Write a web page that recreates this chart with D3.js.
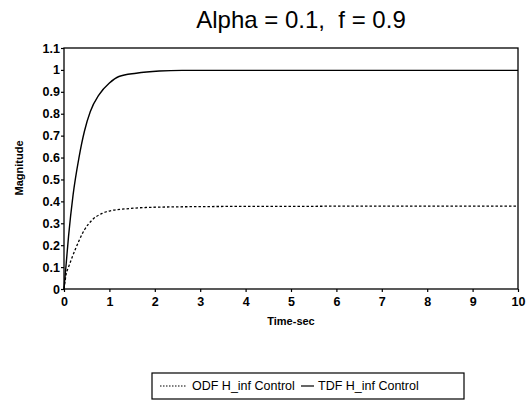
<!DOCTYPE html>
<html>
<head>
<meta charset="utf-8">
<script src="https://cdn.jsdelivr.net/npm/d3@7"></script>
<style>
body { margin: 0; background: #fff; }
text { font-family: "Liberation Sans", Arial, sans-serif; fill: #000; }
</style>
</head>
<body>
<svg id="chart" width="528" height="407"></svg>
<script>
// step responses
var tdfTime = [0, 0.05, 0.1, 0.2, 0.33, 0.45, 0.58, 0.77, 1.0, 1.21, 1.59, 2.1, 2.6, 3, 4, 5, 6, 7, 8, 9, 10]
var tdfMag  = [0, 0.12, 0.24, 0.43, 0.60, 0.72, 0.81, 0.886, 0.94, 0.97, 0.985, 0.995, 0.998, 0.998, 0.998, 0.998, 0.998, 0.998, 0.998, 0.998, 0.998]
var odfTime = [0, 0.05, 0.1, 0.18, 0.33, 0.45, 0.62, 0.84, 1.0, 1.37, 1.8, 2.5, 3, 4, 5, 6, 7, 8, 9, 10]
var odfMag  = [0, 0.07, 0.10, 0.145, 0.22, 0.27, 0.315, 0.345, 0.356, 0.366, 0.372, 0.375, 0.376, 0.377, 0.377, 0.378, 0.378, 0.378, 0.378, 0.378]
var xTicks = d3.range(0, 11)
var yTicks = [0, 0.1, 0.2, 0.3, 0.4, 0.5, 0.6, 0.7, 0.8, 0.9, 1, 1.1]
var legendNames = ['ODF H_inf Control', 'TDF H_inf Control']

var svg = d3.select('#chart')
var x = d3.scaleLinear().domain([0, 10]).range([64, 518])
var y = d3.scaleLinear().domain([0, 1.1]).range([289, 48])

svg.append('text')
  .attr('x', 301).attr('y', 28)
  .attr('text-anchor', 'middle')
  .style('font-size', '24px')
  .style('white-space', 'pre')
  .text('Alpha = 0.1,  f = 0.9')

svg.append('rect')
  .attr('x', 64).attr('y', 48)
  .attr('width', 454).attr('height', 241)
  .attr('fill', 'none').attr('stroke', '#000').attr('stroke-width', 1.3)

var xAxis = svg.append('g')
  .attr('transform', 'translate(0,289)')
  .call(d3.axisBottom(x).tickValues(xTicks).tickSize(3).tickFormat(d3.format('d')))
var yAxis = svg.append('g')
  .attr('transform', 'translate(64,0)')
  .call(d3.axisLeft(y).tickValues(yTicks).tickSize(3).tickFormat(function (d) { return d3.format('')(+d.toFixed(1)) }))

svg.selectAll('.domain').remove()
svg.selectAll('.tick line').attr('stroke', '#000').attr('stroke-width', 1.2)
svg.selectAll('.tick text')
  .style('font-family', '"Liberation Sans", Arial, sans-serif')
  .style('font-size', '12.5px')
  .style('font-weight', 'bold')
  .attr('fill', '#000')
xAxis.selectAll('.tick text').attr('dy', '0.9em')
yAxis.selectAll('.tick text').attr('x', -4)

svg.append('text')
  .attr('x', 291).attr('y', 325)
  .attr('text-anchor', 'middle')
  .style('font-size', '11px').style('font-weight', 'bold')
  .text('Time-sec')

svg.append('text')
  .attr('transform', 'translate(23,168) rotate(-90)')
  .attr('text-anchor', 'middle')
  .style('font-size', '11px').style('font-weight', 'bold')
  .text('Magnitude')

var line = d3.line()
  .x(function (d) { return x(d[0]) })
  .y(function (d) { return y(d[1]) })
  .curve(d3.curveMonotoneX)

svg.append('path')
  .datum(d3.zip(odfTime, odfMag))
  .attr('d', line)
  .attr('fill', 'none').attr('stroke', '#000')
  .attr('stroke-width', 1.3).attr('stroke-dasharray', '2.5,2')

svg.append('path')
  .datum(d3.zip(tdfTime, tdfMag))
  .attr('d', line)
  .attr('fill', 'none').attr('stroke', '#000')
  .attr('stroke-width', 1.4)

// legend
var lg = svg.append('g')
lg.append('rect')
  .attr('x', 152).attr('y', 373)
  .attr('width', 312).attr('height', 26)
  .attr('fill', 'none').attr('stroke', '#000').attr('stroke-width', 1.2)
lg.append('line')
  .attr('x1', 160).attr('x2', 187).attr('y1', 386).attr('y2', 386)
  .attr('stroke', '#000').attr('stroke-width', 1.2).attr('stroke-dasharray', '1.5,1.5')
lg.append('text').attr('x', 192).attr('y', 390)
  .style('font-size', '12.5px').text(legendNames[0])
lg.append('line')
  .attr('x1', 301).attr('x2', 314).attr('y1', 386).attr('y2', 386)
  .attr('stroke', '#000').attr('stroke-width', 1.2)
lg.append('text').attr('x', 318).attr('y', 390)
  .style('font-size', '12.5px').text(legendNames[1])
</script>
</body>
</html>
